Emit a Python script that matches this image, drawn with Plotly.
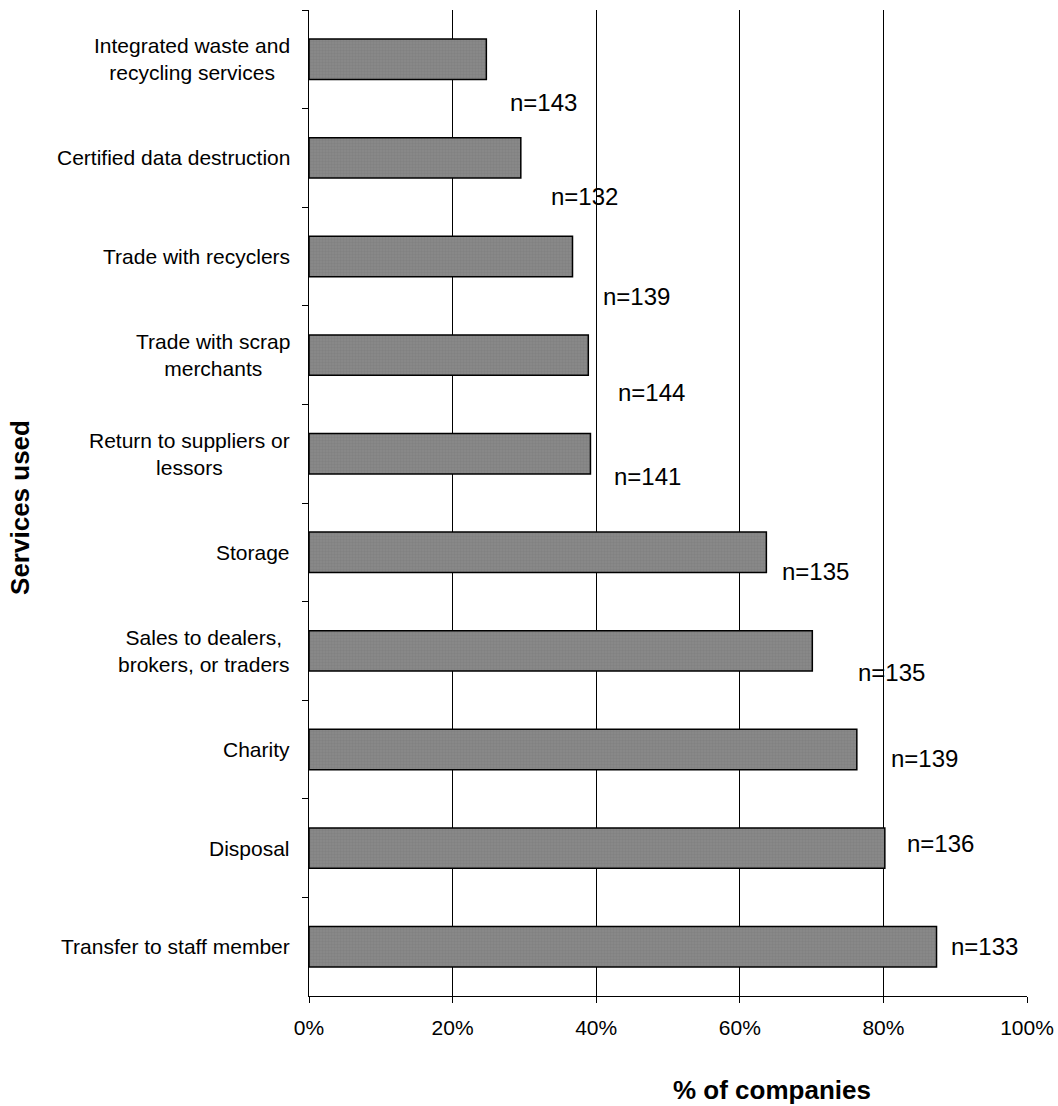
import plotly.graph_objects as go

# Services used for retired equipment (top to bottom)
services = [
    "Integrated waste and<br>recycling services",
    "Certified data destruction",
    "Trade with recyclers",
    "Trade with scrap<br>merchants",
    "Return to suppliers or<br>lessors",
    "Storage",
    "Sales to dealers,<br>brokers, or traders",
    "Charity",
    "Disposal",
    "Transfer to staff member",
]
pct_companies = [24.7, 29.5, 36.7, 38.9, 39.2, 63.7, 70.1, 76.3, 80.2, 87.4]
n_respondents = [143, 132, 139, 144, 141, 135, 135, 139, 136, 133]

# pixel offsets of the sample-size labels from each bar end
n_label_shift = [(22, -43), (28, -39), (28, -40), (28, -37), (22, -23),
                 (14, -19), (44, -22), (32, -9), (20, 5), (12, 0)]

x_ticks = [0, 20, 40, 60, 80, 100]
x_ticktext = ["0%", "20%", "40%", "60%", "80%", "100%"]

FONT = "Liberation Sans, Arial, sans-serif"

fig = go.Figure()
fig.add_trace(go.Bar(
    x=pct_companies,
    y=services,
    orientation="h",
    marker=dict(
        color="#858585",
        line=dict(color="#000000", width=1.5),
        pattern=dict(shape=".", bgcolor="#8a8a8a", fgcolor="#777777",
                     size=3, solidity=0.5),
    ),
    width=0.41,
    hoverinfo="skip",
))

annotations = []
for svc in services:
    annotations.append(dict(
        x=0, xref="paper", y=svc, yref="y",
        text=svc, showarrow=False, xanchor="right", yanchor="middle",
        align="center", xshift=-17,
        font=dict(family=FONT, size=21, color="#000000"),
    ))
for svc, val, n, (dx, dy) in zip(services, pct_companies, n_respondents, n_label_shift):
    annotations.append(dict(
        x=val, xref="x", y=svc, yref="y",
        text=f"n={n}", showarrow=False, xanchor="left", yanchor="middle",
        xshift=dx, yshift=dy,
        font=dict(family=FONT, size=24, color="#000000"),
    ))

annotations.append(dict(
    x=0.645, xref="paper", y=-0.0953, yref="paper",
    text="<b>% of companies</b>", showarrow=False,
    xanchor="center", yanchor="middle",
    font=dict(family=FONT, size=26, color="#000000"),
))
annotations.append(dict(
    x=-0.4025, xref="paper", y=0.495, yref="paper",
    text="<b>Services used</b>", showarrow=False, textangle=-90,
    xanchor="center", yanchor="middle",
    font=dict(family=FONT, size=26, color="#000000"),
))

fig.update_layout(
    width=1058, height=1106,
    margin=dict(l=309, r=31, t=10, b=110),
    paper_bgcolor="white", plot_bgcolor="white",
    showlegend=False,
    font=dict(family=FONT, size=21, color="#000000"),
    annotations=annotations,
    xaxis=dict(
        range=[0, 100],
        automargin=False,
        tickvals=x_ticks, ticktext=x_ticktext,
        showgrid=True, gridcolor="#000000", gridwidth=1,
        zeroline=False,
        showline=True, linecolor="#000000", linewidth=1,
        ticks="outside", ticklen=6, tickcolor="#000000",
        ticklabelstandoff=7,
        tickfont=dict(family=FONT, size=21, color="#000000"),
        fixedrange=True,
    ),
    yaxis=dict(
        type="category",
        automargin=False,
        range=[len(services) - 0.5, -0.5],
        showticklabels=False,
        tickson="boundaries",
        ticks="outside", ticklen=6, tickcolor="#000000",
        showgrid=False,
        showline=True, linecolor="#000000", linewidth=1,
        fixedrange=True,
    ),
)

fig.write_html("out.html")
